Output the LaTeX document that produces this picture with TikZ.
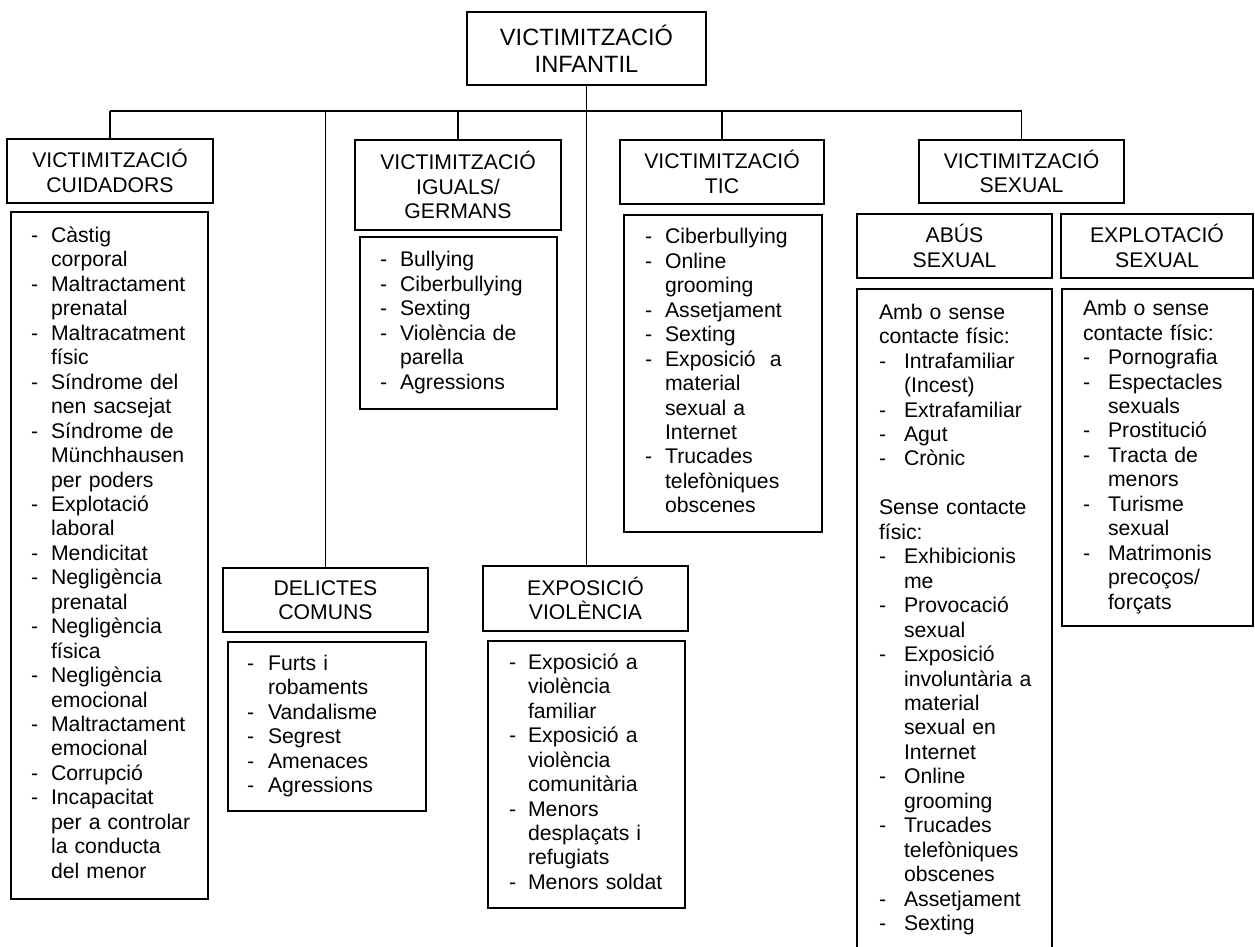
\documentclass[tikz,border=0pt]{standalone}
\usepackage{fontspec}
\setmainfont{Liberation Sans}

\newcommand{\llista}[2]{\begin{tabular}{@{}l@{\hspace{#1}}l@{}}#2\end{tabular}}

\begin{document}
\begin{tikzpicture}[x=1pt, y=-1pt,
        capsa/.style={draw, line width=2pt, align=center, inner sep=0pt,
            font=\fontsize{21.2}{24.5}\selectfont},
        llistacapsa/.style n args={3}{draw, line width=2pt, align=left,
            inner ysep=0pt, inner xsep=#2, text width=#1, minimum height=#3,
            font=\fontsize{21.2}{24.45}\selectfont},
        linia/.style={line width=1.6pt}]
            \useasboundingbox (0, 0) rectangle (1255, 947);
            %\draw[lightgray, step=50] (0, 0) grid (1255, 947);

            \node[capsa, minimum width=239pt, minimum height=73pt,
                font=\fontsize{23.6}{27}\selectfont] (arrel) at (586.5, 48.5) {VICTIMITZACIÓ\\INFANTIL};

            \node[capsa, minimum width=206pt, minimum height=64pt] (cuid) at (110, 171) {VICTIMITZACIÓ\\CUIDADORS};
            \node[capsa, minimum width=206pt, minimum height=90pt] (igual) at (458, 185) {VICTIMITZACIÓ\\IGUALS/\\GERMANS};
            \node[capsa, minimum width=204pt, minimum height=64pt] (tic) at (722, 172) {VICTIMITZACIÓ\\TIC};
            \node[capsa, minimum width=205pt, minimum height=63pt] (sexual) at (1021.5, 171.5) {VICTIMITZACIÓ\\SEXUAL};
            \node[capsa, minimum width=205pt, minimum height=64pt] (delic) at (325.5, 600) {DELICTES\\COMUNS};
            \node[capsa, minimum width=205pt, minimum height=65pt] (expo) at (585.5, 598.5) {EXPOSICIÓ\\VIOLÈNCIA};
            \node[capsa, minimum width=195pt, minimum height=64pt] (abus) at (954.5, 246) {ABÚS\\SEXUAL};
            \node[capsa, minimum width=192pt, minimum height=64pt] (explot) at (1157, 246) {EXPLOTACIÓ\\SEXUAL};

            % connectors
            \coordinate (bus) at (0, 111);
            \draw[linia] (cuid.north |- bus) -- (sexual.north |- bus);
            \foreach \c in {cuid, delic, igual, tic, sexual}
                \draw[linia] (\c.north) -- (\c.north |- bus);
            \draw[linia] (arrel.south) -- (arrel.south |- expo.north);

            % llistes
            \node[llistacapsa={157pt}{20pt}{687pt}] (llcuid) at (109.5, 555.5) {\llista{13pt}{
                - & Càstig\\ & corporal\\
                - & Maltractament\\ & prenatal\\
                - & Maltracatment\\ & físic\\
                - & Síndrome del\\ & nen sacsejat\\
                - & Síndrome de\\ & Münchhausen\\ & per poders\\
                - & Explotació\\ & laboral\\
                - & Mendicitat\\
                - & Negligència\\ & prenatal\\
                - & Negligència\\ & física\\
                - & Negligència\\ & emocional\\
                - & Maltractament\\ & emocional\\
                - & Corrupció\\
                - & Incapacitat\\ & per a controlar\\ & la conducta\\ & del menor}};

            \node[llistacapsa={157pt}{20pt}{172pt}] (lligual) at (458.5, 323) {\llista{13pt}{
                - & Bullying\\
                - & Ciberbullying\\
                - & Sexting\\
                - & Violència de\\ & parella\\
                - & Agressions}};

            \node[llistacapsa={160pt}{19pt}{169pt}] (lldelic) at (327, 726.5) {\llista{14pt}{
                - & Furts i\\ & robaments\\
                - & Vandalisme\\
                - & Segrest\\
                - & Amenaces\\
                - & Agressions}};

            \node[llistacapsa={156pt}{21pt}{317pt}] (lltic) at (723, 373.5) {\llista{13pt}{
                - & Ciberbullying\\
                - & Online\\ & grooming\\
                - & Assetjament\\
                - & Sexting\\
                - & Exposició~ a\\ & material\\ & sexual a\\ & Internet\\
                - & Trucades\\ & telefòniques\\ & obscenes}};

            \node[llistacapsa={155pt}{21pt}{267pt}] (llexpo) at (586.5, 774.5) {\llista{12pt}{
                - & Exposició a\\ & violència\\ & familiar\\
                - & Exposició a\\ & violència\\ & comunitària\\
                - & Menors\\ & desplaçats i\\ & refugiats\\
                - & Menors soldat}};

            \node[llistacapsa={151pt}{22pt}{662pt}] (llabus) at (954.5, 620) {\llista{18pt}{
                \multicolumn{2}{@{}l@{}}{Amb o sense}\\
                \multicolumn{2}{@{}l@{}}{contacte físic:}\\
                - & Intrafamiliar\\ & (Incest)\\
                - & Extrafamiliar\\
                - & Agut\\
                - & Crònic\\
                & \\
                \multicolumn{2}{@{}l@{}}{Sense contacte}\\
                \multicolumn{2}{@{}l@{}}{físic:}\\
                - & Exhibicionis\\ & me\\
                - & Provocació\\ & sexual\\
                - & Exposició\\ & involuntària a\\ & material\\ & sexual en\\ & Internet\\
                - & Online\\ & grooming\\
                - & Trucades\\ & telefòniques\\ & obscenes\\
                - & Assetjament\\
                - & Sexting}};

            \node[llistacapsa={149pt}{21pt}{337pt}] (llexplot) at (1157.5, 457.5) {\llista{18pt}{
                \multicolumn{2}{@{}l@{}}{Amb o sense}\\
                \multicolumn{2}{@{}l@{}}{contacte físic:}\\
                - & Pornografia\\
                - & Espectacles\\ & sexuals\\
                - & Prostitució\\
                - & Tracta de\\ & menors\\
                - & Turisme\\ & sexual\\
                - & Matrimonis\\ & precoços/\\ & forçats}};
        \end{tikzpicture}
\end{document}
